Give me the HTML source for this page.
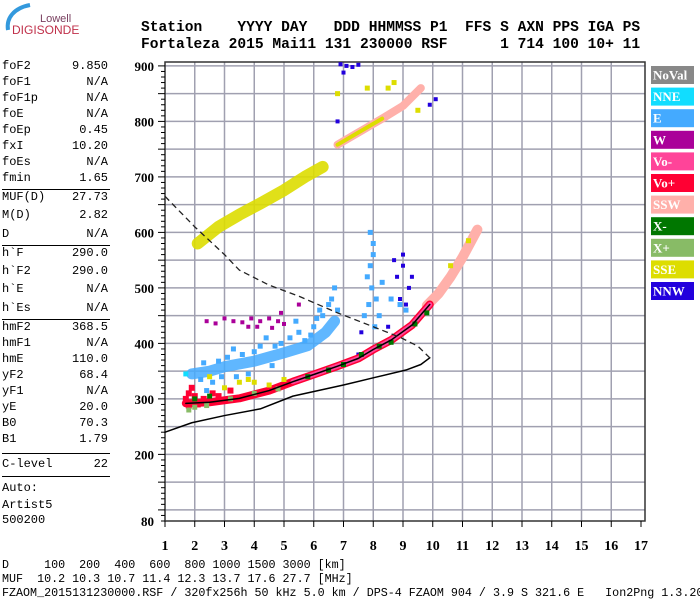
<!DOCTYPE html>
<html><head><meta charset="utf-8"><style>
body{margin:0;background:#fff;width:700px;height:600px;overflow:hidden;position:relative;font-family:"Liberation Mono",monospace}
.hd{position:absolute;left:141px;font:bold 14.6px "Liberation Mono",monospace;white-space:pre;color:#000}
.lp{position:absolute;left:2px;top:0;width:106px;font:12px "Liberation Mono",monospace;color:#000}
.lp div{position:absolute;left:0;width:106px;height:14px}
.lp span.v{position:absolute;right:0}
.lp hr{position:absolute;left:0;width:108px;margin:0;border:0;border-top:1.5px solid #000}
.bt{position:absolute;left:2px;font:11.7px "Liberation Mono",monospace;white-space:pre;color:#000}
</style></head><body>
<svg style="position:absolute;left:0;top:0" width="140" height="40">
<path d="M8,30 C6,18 14,8 30,5" stroke="#3399dd" stroke-width="4" fill="none"/>
<text x="40" y="22" font-family="Liberation Sans,sans-serif" font-size="11" fill="#7a4060">Lowell</text>
<text x="12" y="34" font-family="Liberation Sans,sans-serif" font-size="12" fill="#c0304a">DIGISONDE</text>
</svg>
<div class="hd" style="top:20px">Station    YYYY DAY   DDD HHMMSS P1  FFS S AXN PPS IGA PS</div>
<div class="hd" style="top:37px">Fortaleza 2015 Mai11 131 230000 RSF      1 714 100 10+ 11</div>
<div class="lp" id="lp"></div>
<div class="bt" style="top:558px">D     100  200  400  600  800 1000 1500 3000 [km]</div>
<div class="bt" style="top:572px">MUF  10.2 10.3 10.7 11.4 12.3 13.7 17.6 27.7 [MHz]</div>
<div class="bt" style="top:586px">FZAOM_2015131230000.RSF / 320fx256h 50 kHz 5.0 km / DPS-4 FZAOM 904 / 3.9 S 321.6 E   Ion2Png 1.3.20</div>
<svg id="ch" style="position:absolute;left:0;top:0" width="700" height="600"></svg>
<script>
const params=[["foF2","9.850",68],["foF1","N/A",84],["foF1p","N/A",100],["foE","N/A",116],["foEp","0.45",132],["fxI","10.20",148],["foEs","N/A",164],["fmin","1.65",180],
["MUF(D)","27.73",199],["M(D)","2.82",217],["D","N/A",236],["h`F","290.0",255],["h`F2","290.0",273],["h`E","N/A",291],["h`Es","N/A",310],
["hmF2","368.5",329],["hmF1","N/A",345],["hmE","110.0",361],["yF2","68.4",377],["yF1","N/A",393],["yE","20.0",409],["B0","70.3",425],["B1","1.79",441],["C-level","22",466]];
const seps=[189,245,319,453,476];
const lp=document.getElementById('lp');
params.forEach(p=>{const d=document.createElement('div');


d.style.top=(p[2]-9)+'px';d.innerHTML=p[0]+'<span class="v">'+p[1]+'</span>';lp.appendChild(d);});
[["Auto:",490],["Artist5",507],["500200",522]].forEach(p=>{const d=document.createElement('div');


d.style.top=(p[1]-9)+'px';d.textContent=p[0];lp.appendChild(d);});
seps.forEach(y=>{const h=document.createElement('hr');h.style.top=y+'px';lp.appendChild(h);});

// chart data
const xTicks=[1,2,3,4,5,6,7,8,9,10,11,12,13,14,15,16,17];
const yTicks=[900,800,700,600,500,400,300,200];
const legendNames=["NoVal","NNE","E","W","Vo-","Vo+","SSW","X-","X+","SSE","NNW"];
const legendColors=["#888888","#11ddff","#44aaff","#aa0099","#ff4499","#ff0033","#ffb0aa","#007700","#88bb66","#dddd00","#2200dd"];
const profileSolid=[[1,240],[1.9,257],[3,270],[4.2,282],[5.3,305],[7,325],[8,338],[9.1,352],[9.6,362],[9.9,374]];
const profileDashed=[[1,665],[2,610],[3,560],[3.5,532],[4.5,505],[5.5,485],[6.8,455],[8,430],[8.9,411],[9.5,395],[9.9,374]];
const traceMain=[[1.7,292],[2.5,294],[3.5,301],[4.5,315],[5.3,331],[6,344],[6.8,359],[7.5,373],[8,389],[8.6,406],[9.3,433],[9.9,470]];
const traceSSW=[[9.8,468],[10.2,490],[10.6,520],[11,555],[11.5,605]];
const hop2SSE=[[2.1,580],[2.8,610],[3.5,632],[4.2,652],[5,676],[5.7,700],[6.3,718]];
const hop2Upper=[[6.8,758],[7.5,780],[8.3,805],[9,828],[9.6,860]];
const eCloud=[[1.9,345],[2.5,350],[3,358],[4,368],[5,383],[5.8,396],[6.4,420],[6.7,440]];
const ptsE=[[2.2,335],[2.6,330],[3.1,375],[3.6,380],[4.2,395],[4.6,360],[5.2,410],[5.5,420],[6,430],[6.3,450],[6.5,470],[6.6,480],[6.8,460],[5.9,415],[4.9,400],[3.4,340],[2.9,340],[1.9,320],[2.4,315],[5.4,440],[6.1,445],[4.4,410],[3.8,345],[7.8,520],[7.9,540],[8,560],[7.95,500],[8.1,480],[7.85,470],[8.2,450],[8.05,430],[8.3,510],[7.7,450],[8.6,480],[8.9,470],[9.1,460],[8,580],[7.9,600],[2.3,365],[2.8,368],[3.3,390],[4,385],[4.7,395],[5.7,405],[6.2,460],[6.7,500]];
const ptsNNW=[[8.3,400],[8.5,430],[8.8,520],[9,540],[9.2,500],[9.1,470],[8.7,550],[9.3,520],[7.6,420],[7.5,380],[6.9,903],[7.1,900],[7.3,898],[7.5,902],[7,888],[9.3,845],[9.9,830],[6.8,800],[10.1,840],[9,560],[8.9,480]];
const ptsW=[[3,445],[3.3,440],[3.6,438],[3.9,445],[4.2,440],[4.5,445],[4.8,440],[5,435],[4.1,430],[3.8,430],[4.6,428],[2.4,440],[2.7,436],[5.5,470],[4.9,455]];
const ptsRed=[[1.7,300],[1.8,310],[2,305],[2.3,300],[2.6,310],[1.9,320],[2.8,305],[3.2,315],[2.1,290],[1.8,288]];
const ptsSSE=[[3,320],[3.5,330],[4,330],[4.5,325],[5,335],[2.5,340],[3.8,335],[8.5,860],[8.7,870],[7.8,860],[6.8,850],[9.5,820],[10.6,540],[11.2,585]];
const ptsXm=[[6.5,352],[7,362],[7.6,380],[8.2,395],[8.6,402],[5.8,340],[2,300],[2.5,305],[9.4,435],[9.8,455]];
const ptsXp=[[2,285],[2.4,288],[3.2,300],[4,310],[4.8,318],[1.8,280]];
const ptsNNE=[[1.7,345]];

const X=f=>165+(f-1)*29.75, Y=h=>521-(h-80)*0.555;
const NS='http://www.w3.org/2000/svg', svg=document.getElementById('ch');
function el(t,a){const e=document.createElementNS(NS,t);for(const k in a)e.setAttribute(k,a[k]);svg.appendChild(e);return e;}
for(let f=2;f<=16;f++){const g=el('line',{x1:X(f),x2:X(f),y1:62,y2:521,stroke:'#a0a0b0','stroke-width':1.5});

}
for(let h=100;h<=900;h+=50){const g=el('line',{x1:165,x2:645,y1:Y(h),y2:Y(h),stroke:'#a0a0b0','stroke-width':1.5});

}
const fr=el('rect',{x:165,y:62,width:480,height:459,fill:'none',stroke:'#333','stroke-width':1.5});


for(let h=80;h<=900;h+=10){el('line',{x1:(h%50===0?158:161),x2:165,y1:Y(h),y2:Y(h),stroke:'#000','stroke-width':1});}
yTicks.concat([80]).forEach(h=>{const t=el('text',{x:154,y:Y(h)+5,'text-anchor':'end','font-family':'Liberation Serif,serif','font-weight':'bold','font-size':13});


t.textContent=h;});
xTicks.forEach(f=>{el('line',{x1:X(f),x2:X(f),y1:521,y2:527,stroke:'#000'});
const t=el('text',{x:X(f),y:550,'text-anchor':'middle','font-family':'Liberation Serif,serif','font-weight':'bold','font-size':14});


t.textContent=f;});
const pl=a=>a.map(p=>X(p[0])+','+Y(p[1])).join(' ');
function band(a,c,w,name,op){const e=el('polyline',{points:pl(a),fill:'none',stroke:c,'stroke-width':w,'stroke-linejoin':'round','stroke-linecap':'round','stroke-opacity':op||1});

}
function pts(a,c,name,s){a.forEach(p=>{const e=el('rect',{x:X(p[0])-s/2,y:Y(p[1])-s/2,width:s,height:s,fill:c});

});}
band(eCloud,'#44aaff',11,'e-cloud',0.85);
pts(ptsE,'#44aaff','e-echo',5);
pts(ptsW,'#aa0099','w-echo',4);
pts(ptsNNW,'#2200dd','nnw-echo',4);
band(hop2SSE,'#dddd00',12,'second-hop-sse',0.9);
band(hop2Upper,'#ffb0aa',8,'second-hop-ssw');
band(hop2Upper.slice(0,3),'#dddd00',4,'second-hop-sse-upper');
band(traceSSW,'#ffb0aa',10,'ssw-trace');
band(traceMain,'#ff0033',8,'o-trace');
band(traceMain.slice(4),'#ff4499',5,'vo-minus-trace');
pts(ptsRed,'#ff0033','vo-plus-echo',6);
pts(ptsSSE,'#dddd00','sse-echo',5);
pts(ptsXm,'#007700','x-minus-echo',5);
pts(ptsXp,'#88bb66','x-plus-echo',5);
pts(ptsNNE,'#11ddff','nne-echo',5);
band(traceMain,'#000',1.5,'trace-line');
band(profileSolid,'#000',1.5,'density-profile');
const d=el('polyline',{points:pl(profileDashed),fill:'none',stroke:'#222','stroke-width':1.3,'stroke-dasharray':'6,4'});


legendNames.forEach((n,i)=>{const y=66+i*21.6;
const r=el('rect',{x:651,y:y,width:43,height:18,fill:legendColors[i]});


const t=el('text',{x:653,y:y+13.5,'font-family':'Liberation Serif,serif','font-weight':'bold','font-size':13,fill:'#fff'});


t.textContent=n;});
</script>
</body></html>
